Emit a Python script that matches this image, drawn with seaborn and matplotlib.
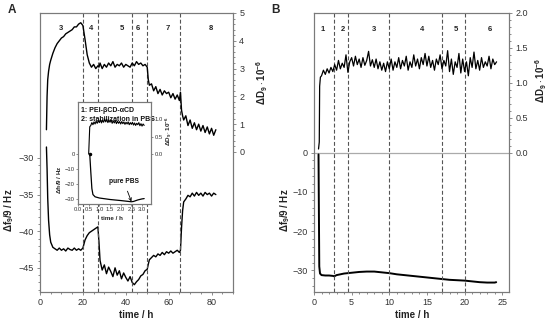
import numpy as np
import matplotlib
matplotlib.use("Agg")
import matplotlib.pyplot as plt
from matplotlib.ticker import FixedLocator, MultipleLocator, FormatStrFormatter
import seaborn as sns

# ---------------- data: panel A ----------------
tA = [3.0, 3.3, 3.6, 4.0, 4.5, 5, 6, 7, 8, 9,
      10, 11, 12, 13, 14, 15, 16, 17, 18, 19,
      20, 21, 22, 23, 24, 25, 26, 27, 27.5, 28,
      29, 30, 31, 32, 33, 34, 35, 36, 37, 38,
      39, 40, 41, 42, 43, 44, 45, 46, 47, 48,
      49, 50, 50.5, 51, 52, 53, 54, 55, 56, 57,
      58, 59, 60, 61, 62, 63, 64, 65, 65.5, 66,
      66.5, 67, 68, 69, 70, 71, 72, 73, 74, 75,
      76, 77, 78, 79, 80, 81, 82]
dA = [0.8, 2.0, 2.6, 2.9, 3.15, 3.3, 3.55, 3.75, 3.9, 4.0,
      4.1, 4.15, 4.25, 4.3, 4.35, 4.4, 4.5, 4.5, 4.6, 4.65,
      4.55, 4.05, 3.5, 3.2, 3.05, 3.15, 3.0, 3.1, 3.05, 3.2,
      3.0, 3.15, 3.05, 3.2, 3.1, 3.25, 3.05, 3.15, 3.1, 3.2,
      3.05, 3.15, 3.1, 3.05, 3.2, 3.1, 3.25, 3.15, 3.2, 3.1,
      3.15, 3.05, 2.6, 2.4, 2.45, 2.2, 2.35, 2.1, 2.25, 2.05,
      2.2, 2.1, 2.15, 1.95, 2.1, 1.9, 2.05, 1.85, 2.15, 1.5,
      1.3, 1.15, 1.3, 0.95, 1.15, 0.85, 1.05, 0.8, 1.0, 0.75,
      0.95, 0.7, 0.9, 0.65, 0.85, 0.6, 0.8]
fA = [-28.5, -31.5, -35.5, -38.5, -40.5, -41.5, -42.2, -42.4, -42.6, -42.3,
      -42.6, -42.4, -42.7, -42.3, -42.5, -42.6, -42.3, -42.6, -42.4, -42.6,
      -42.3, -41.2, -40.6, -40.2, -40.0, -39.8, -39.6, -39.4, -41.5, -44.0,
      -45.3, -44.6, -45.8, -44.9, -45.5, -46.2, -45.0, -46.0, -45.4, -46.5,
      -45.7, -46.3, -46.8, -46.2, -47.0, -47.3, -46.9, -46.6, -46.1, -45.9,
      -45.4, -45.2, -44.5, -43.9, -43.6, -43.3, -43.5, -43.1, -43.3, -42.9,
      -43.2, -42.8, -43.0, -42.7, -43.0, -42.8, -42.6, -42.9, -42.6, -39.5,
      -37.2, -36.0, -35.6, -35.1, -35.3, -34.8, -35.2, -34.7, -35.1, -34.8,
      -35.2, -34.7, -35.0, -34.8, -35.2, -34.8, -35.0]
stepsA = [20, 27, 43, 50, 65.5]
phase_labels_A = ["3", "4", "5", "6", "7", "8"]
phase_pos_A = [10, 24, 38, 45.5, 59.5, 79.5]

# ---------------- data: inset ----------------
tI_D = [0.50, 0.55, 0.60, 0.65, 0.70, 0.75, 0.80, 0.85, 0.90, 0.95, 1.00, 1.05,
        1.10, 1.15, 1.20, 1.25, 1.30, 1.35, 1.40, 1.45, 1.50, 1.55,
        1.60, 1.65, 1.70, 1.75, 1.80, 1.85, 1.90, 1.95, 2.00, 2.05,
        2.10, 2.15, 2.20, 2.25, 2.30, 2.35, 2.40, 2.45, 2.50, 2.55,
        2.60, 2.65, 2.70, 2.75, 2.80, 2.85, 2.90, 2.95, 3.00, 3.05, 3.10]
dI = [0.0, 0.78, 0.82, 0.90, 0.84, 0.92, 0.86, 0.94, 0.88, 0.96, 0.90, 0.98,
      0.89, 0.97, 0.91, 1.00, 0.92, 0.99, 0.90, 0.97, 0.91, 0.98,
      0.88, 0.95, 0.89, 0.96, 0.87, 0.94, 0.88, 0.93, 0.86, 0.93,
      0.87, 0.92, 0.85, 0.91, 0.86, 0.92, 0.84, 0.90, 0.85, 0.91,
      0.83, 0.89, 0.82, 0.88, 0.84, 0.90, 0.81, 0.87, 0.80, 0.86, 0.82]
tI_f = [0.55, 0.6, 0.65, 0.7, 0.8, 1.0, 1.5, 2.0, 2.5, 2.6, 2.8, 3.0, 3.1]
fI = [0, -12, -23, -27, -28.5, -29.3, -30.3, -31.0, -31.8, -31.6, -30.6, -29.9, -29.7]

# ---------------- data: panel B ----------------
tB_D = [0.6, 0.7, 0.75, 0.85] + list(np.arange(1.0, 24.26, 0.25))
dB = [0.05, 0.15, 0.95, 1.08,
      1.10, 1.18, 1.12, 1.20, 1.14, 1.22, 1.16, 1.26,
      1.18, 1.32, 1.20, 1.28, 1.22, 1.40, 1.15, 1.30,
      1.36, 1.24, 1.38, 1.26, 1.34, 1.22, 1.36, 1.25,
      1.32, 1.45, 1.24, 1.33, 1.22, 1.34, 1.20, 1.30,
      1.18, 1.28, 1.16, 1.30, 1.20, 1.34, 1.18, 1.30,
      1.22, 1.36, 1.20, 1.32, 1.24, 1.38, 1.18, 1.30,
      1.22, 1.40, 1.24, 1.34, 1.20, 1.36, 1.26, 1.42,
      1.24, 1.38, 1.22, 1.32, 1.18, 1.34, 1.26, 1.40,
      1.20, 1.32, 1.24, 1.46, 1.16, 1.34, 1.12, 1.30,
      1.22, 1.42, 1.14, 1.34, 1.16, 1.30, 1.10, 1.36,
      1.22, 1.44, 1.20, 1.32, 1.18, 1.36, 1.22, 1.30,
      1.24, 1.38, 1.20, 1.34, 1.26, 1.30]
tB_f = [0.6, 0.65, 0.7, 0.8, 1.0, 1.5, 2.0, 2.5, 2.7, 3.0, 3.5, 4.0, 5, 6, 7, 8,
        9, 10, 11, 12, 13, 14, 15, 16, 17, 18, 19, 20, 21, 22, 23, 24, 24.2]
fB = [-0.5, -15, -29, -30.8, -31.2, -31.3, -31.3, -31.4, -31.5, -31.2, -31.0, -30.8,
      -30.6, -30.4, -30.3, -30.3, -30.5, -30.7, -31.0, -31.2, -31.4, -31.6, -31.8,
      -32.0, -32.2, -32.4, -32.5, -32.6, -32.8, -33.0, -33.1, -33.1, -33.0]
stepsB = [2.7, 4.5, 10, 17, 20]
phase_labels_B = ["1", "2", "3", "4", "5", "6"]
phase_pos_B = [1.1, 3.9, 7.9, 14.4, 18.8, 23.3]

# ---------------- style ----------------
sns.set_theme(style="ticks")
plt.rcParams['font.family'] = ['Liberation Sans', 'DejaVu Sans']
plt.rcParams['mathtext.fontset'] = 'custom'
plt.rcParams['mathtext.rm'] = 'Liberation Sans'
plt.rcParams['mathtext.bf'] = 'Liberation Sans:bold'
plt.rcParams['mathtext.default'] = 'regular'

FRAME = '#7a7a7a'
TXT = '#333333'
DASH = '#555555'

fig = plt.figure(figsize=(5.5, 3.24), dpi=100)
W, H = 550.0, 324.0


def fax(l, t, r, b):
    return fig.add_axes([l / W, 1 - b / H, (r - l) / W, (b - t) / H])


def ftext(x, y, s, **kw):
    kw.setdefault('ha', 'center')
    kw.setdefault('va', 'center')
    return fig.text(x / W, 1 - y / H, s, **kw)


def style_axis(ax, fs=6.5, length=2.5, minor_len=1.3, pad=2):
    for s in ax.spines.values():
        s.set_color(FRAME)
        s.set_linewidth(0.8)
    ax.tick_params(which='both', colors=FRAME, labelcolor=TXT, labelsize=fs,
                   width=0.6, direction='out')
    ax.tick_params(which='major', length=length, pad=pad)
    ax.tick_params(which='minor', length=minor_len)
    ax.set_xlabel('')
    ax.set_ylabel('')


lab_kw = dict(fontsize=7, fontweight='bold', color='#222222')
F_LAB = r'$\mathbf{\Delta f_9/9}$ / Hz'
D_LAB = r'$\mathbf{\Delta D_9 \cdot 10^{-6}}$'

# ---------------- Panel A ----------------
axA = fax(40, 13, 233, 292)
axA2 = axA.twinx()
sns.lineplot(x=tA, y=fA, ax=axA, color='black', lw=1.0, estimator=None, sort=False)
sns.lineplot(x=tA, y=dA, ax=axA2, color='black', lw=1.0, estimator=None, sort=False)
axA.set_xlim(0, 90)
axA.set_ylim(-48.3, -10.2)
axA2.set_ylim(-5.04, 5)
axA.xaxis.set_major_locator(FixedLocator([0, 20, 40, 60, 80]))
axA.xaxis.set_minor_locator(MultipleLocator(5))
axA.yaxis.set_major_locator(FixedLocator([-45, -40, -35, -30]))
axA.yaxis.set_minor_locator(FixedLocator(list(range(-48, -29))))
axA2.yaxis.set_major_locator(FixedLocator([0, 1, 2, 3, 4, 5]))
axA2.yaxis.set_minor_locator(FixedLocator([i * 0.2 for i in range(0, 26)]))
for x in stepsA:
    axA.axvline(x, color=DASH, lw=0.8, ls=(0, (3.5, 2)))
for lab, x in zip(phase_labels_A, phase_pos_A):
    axA.text(x, -12.3, lab, ha='center', va='center', fontsize=5.5,
             fontweight='bold', color='#222222')
style_axis(axA)
style_axis(axA2)
ftext(136, 315, 'time / h', **lab_kw)
ftext(9, 210, F_LAB, rotation=90, **lab_kw)
ftext(262, 82, D_LAB, rotation=90, **lab_kw)
ftext(12, 10, 'A', fontsize=8.5, fontweight='bold')

# ---------------- Inset ----------------
axI = fax(78, 102, 151, 204)
axI2 = axI.twinx()
sns.lineplot(x=tI_D, y=dI, ax=axI2, color='black', lw=0.8, estimator=None, sort=False)
sns.lineplot(x=tI_f, y=fI, ax=axI, color='black', lw=0.9, estimator=None, sort=False)
axI.plot(tI_f[0], fI[0], 'o', color='black', ms=1.5)
axI.set_xlim(0, 3.42)
axI.set_ylim(-33.3, 34.7)
axI2.set_ylim(-1.43, 1.49)
axI.xaxis.set_major_locator(FixedLocator([0, 0.5, 1.0, 1.5, 2.0, 2.5, 3.0]))
axI.yaxis.set_major_locator(FixedLocator([-30, -20, -10, 0]))
axI2.yaxis.set_major_locator(FixedLocator([0.0, 0.5, 1.0]))
axI.xaxis.set_major_formatter(FormatStrFormatter('%.1f'))
axI2.yaxis.set_major_formatter(FormatStrFormatter('%.1f'))
style_axis(axI, fs=4.2, length=1.5, pad=1)
style_axis(axI2, fs=4.2, length=1.5, pad=1)
ilab = dict(fontsize=4.5, fontweight='bold', color='#222222')
ftext(112, 218, 'time / h', **ilab)
ftext(60, 180, F_LAB, rotation=90, **ilab)
ftext(169, 131, D_LAB, rotation=90, **ilab)
axI.text(0.04, 0.95, '1: PEI-βCD-αCD', transform=axI.transAxes, fontsize=5,
         fontweight='bold', va='top', ha='left', color='#111111')
axI.text(0.04, 0.86, '2: stabilization in PBS', transform=axI.transAxes, fontsize=5,
         fontweight='bold', va='top', ha='left', color='#111111')
axI.annotate('pure PBS', xy=(2.5, -31.6), xytext=(2.15, -18.5), fontsize=4.8,
             fontweight='bold', ha='center', va='center', color='#111111',
             arrowprops=dict(arrowstyle='->', lw=0.6, color='black',
                             shrinkA=2, shrinkB=0))

# ---------------- Panel B ----------------
axB = fax(314, 13, 509, 292)
axB2 = axB.twinx()
axB.axhline(0, color='#aaaaaa', lw=0.9)
sns.lineplot(x=tB_f, y=fB, ax=axB, color='black', lw=1.4, estimator=None, sort=False)
sns.lineplot(x=tB_D, y=dB, ax=axB2, color='black', lw=0.9, estimator=None, sort=False)
axB.set_xlim(0, 25.9)
axB.set_ylim(-35.5, 35.5)
axB2.set_ylim(-2.0, 2.0)
axB.xaxis.set_major_locator(FixedLocator([0, 5, 10, 15, 20, 25]))
axB.xaxis.set_minor_locator(MultipleLocator(1))
axB.yaxis.set_major_locator(FixedLocator([-30, -20, -10, 0]))
axB.yaxis.set_minor_locator(FixedLocator(list(range(-34, 1, 2))))
axB2.yaxis.set_major_locator(FixedLocator([0.0, 0.5, 1.0, 1.5, 2.0]))
axB2.yaxis.set_minor_locator(FixedLocator([i * 0.1 for i in range(0, 21)]))
axB2.yaxis.set_major_formatter(FormatStrFormatter('%.1f'))
for x in stepsB:
    axB.axvline(x, color=DASH, lw=0.8, ls=(0, (3.5, 2)))
for lab, x in zip(phase_labels_B, phase_pos_B):
    axB.text(x, 31.4, lab, ha='center', va='center', fontsize=5.5,
             fontweight='bold', color='#222222')
style_axis(axB)
style_axis(axB2)
ftext(412, 315, 'time / h', **lab_kw)
ftext(285, 210, F_LAB, rotation=90, **lab_kw)
ftext(541, 80, D_LAB, rotation=90, **lab_kw)
ftext(276, 10, 'B', fontsize=8.5, fontweight='bold')

fig.savefig('out.png', dpi=100)
